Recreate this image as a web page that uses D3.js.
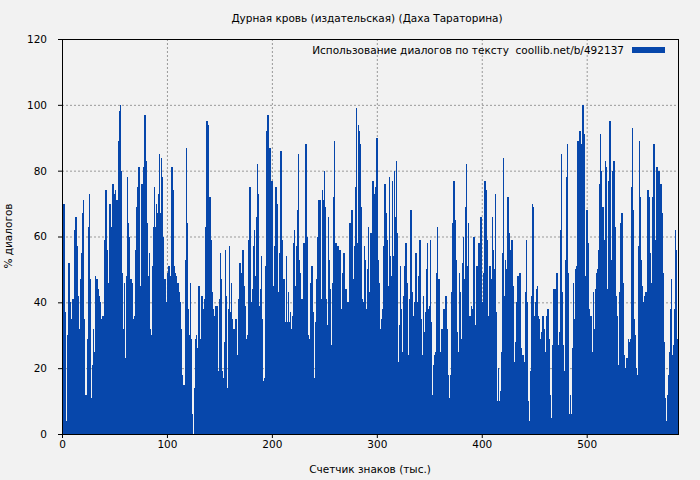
<!DOCTYPE html>
<html><head><meta charset="utf-8">
<script src="https://cdn.jsdelivr.net/npm/d3@7"></script>
<style>body{margin:0;background:#f2f2f2}svg{display:block;font-family:"DejaVu Sans",sans-serif}</style>
</head><body><svg id="c" width="700" height="480"></svg>
<script>
const title = "Дурная кровь (издательская) (Даха Тараторина)";
const legendLabel = "Использование диалогов по тексту\u00a0\u00a0coollib.net/b/492137";
const xLabel = "Счетчик знаков (тыс.)";
const yLabel = "% диалогов";
const xMax = 587;
const xTicks = [0,100,200,300,400,500];
const yTicks = [0,20,40,60,80,100,120];
const seg1 = [49,70,37,2,4,30,52,40,35,30,41,38,62,66,57,42,32,47,55,67,71,35,12,12,29,63,73,47,11,21,32,25,48,47,44,42,40,21,35,36,27,59,74,56,40,46,70,63,58,76,73,74,71,71,89,98,100,80,49,32,46,23,48,78,64,60,47,46,25,35,36,56,69,75,81,45,44,76,76,81,97,83,64,48,55,32,30,51,63,75,63,70,67,73,85,67,84,78,60,47,35,40];
const seg2 = [49,51,40,48,81,74,51,49,48,30,46,43,40,32,18,15,15,53,87,64,38,30,46,29,6,0,14,29,30,26,45,24,29,42,34,38,41,63,95,94,63,72,59,43,38,36,24,39,39,19,41,55,47,19,17,28,56,42,14,38,57,37,46,35,32,30,35,24,22,41,52,43,49,56,45,39,27,29,30,59,75,40,44,57,62,48,66,82,73,39,44,54,35,16,17,51,92,97,70,87,70];
const seg3 = [77,45,23,57,75,70,39,43,55,86,59,40,47,34,54,34,43,34,37,32,36,58,62,45,57,68,85,53,49,41,32,58,57,88,60,30,18,29,46,51,37,17,14,34,47,60,71,71,41,74,71,80,69,41,33,66,53,44,27,46,72,89,58,49,57,28,56,29,38,49,55,37,44,34,40,36,64,45,68,47,57,75,99,58,94,92,88,69,41,40,57,53,38,50,63,43,61,59,77,73,56,75,90,53,46,23];
const seg4 = [32,35,38,57,76,67,59,45,78,54,48,77,54,80,66,83,61,22,33,51,38,25,42,51,58,46,24,22,41,68,43,36,20,40,55,40,39,48,59,35,24,42,31,37,50,58,38,39,59,34,12,21,24,25,49,63,47,22,25,32,18,38,28,42,32,18,11,4,18,43,64,77,65,53,31,25,49,43,29,52,60,47,69,82,51,64,36,36,39,38,60,33,28,51,44,58,48,66,40,29,49,77,74];
const seg5 = [59,35,36,51,47,66,56,50,73,37,10,20,10,13,25,55,84,42,53,50,72,61,47,56,59,45,22,16,28,40,48,35,49,26,20,24,22,43,59,40,10,4,19,42,70,69,36,40,44,45,36,35,29,31,36,32,25,17,36,38,29,12,2,5,27,44,44,31,49,27,31,62,85,43,27,19,53,78,88,49,6,12,6,26,46,35,50,51,89,72,92,72,88,100,91,48,25,68,58,38,34];
const seg6 = [36,25,43,32,44,49,50,56,76,91,80,69,69,59,83,81,44,77,95,53,44,80,83,63,42,36,21,18,43,64,67,46,24,10,20,23,29,28,29,75,93,68,35,30,20,18,57,89,72,53,45,40,42,43,38,74,72,55,25,46,72,88,59,48,81,46,80,71,76,67,49,28,11,4,12,18,25,38,47,24,27,38,62,56,29];
const values = [].concat(seg1,seg2,seg3,seg4,seg5,seg6);

const svg = d3.select("#c");
const m = {l:62, r:678, t:39, b:434};
const x = d3.scaleLinear().domain([0, xMax]).range([m.l, m.r]);
const xb = d3.scaleLinear().domain([0, values.length]).range([m.l, m.r]);
const y = d3.scaleLinear().domain([0,120]).range([m.b, m.t]);

const g = svg.append("g");
g.selectAll(".gy").data(yTicks.filter(d=>d>0)).join("line")
  .attr("x1",m.l).attr("x2",m.r).attr("y1",d=>y(d)+0.5).attr("y2",d=>y(d)+0.5)
  .attr("stroke","#999").attr("stroke-dasharray","2,2");
g.selectAll(".gx").data(xTicks.filter(d=>d>0)).join("line")
  .attr("x1",d=>x(d)+0.5).attr("x2",d=>x(d)+0.5).attr("y1",m.t).attr("y2",m.b)
  .attr("stroke","#999").attr("stroke-dasharray","2,2");

const bw = xb(1)-xb(0);
svg.append("g").attr("shape-rendering","crispEdges").selectAll("rect").data(values).join("rect")
  .attr("x",(d,i)=>xb(i)).attr("width",bw+0.5)
  .attr("y",d=>y(d)).attr("height",d=>y(0)-y(d))
  .attr("fill","#0747ab");

svg.append("rect").attr("x",m.l+0.5).attr("y",m.t+0.5).attr("width",m.r-m.l).attr("height",m.b-m.t)
  .attr("fill","none").attr("stroke","#000");

const fs = 10.5;
const xa = svg.append("g").attr("transform",`translate(0,${m.b})`)
  .call(d3.axisBottom(x).tickValues(xTicks).tickSize(4).tickSizeOuter(0));
const ya = svg.append("g").attr("transform",`translate(${m.l},0)`)
  .call(d3.axisLeft(y).tickValues(yTicks).tickSize(4).tickSizeOuter(0));
[xa,ya].forEach(a=>{a.select(".domain").remove();a.selectAll("text").attr("font-size",fs).attr("font-family","DejaVu Sans").attr("fill","#000");});
ya.selectAll("text").attr("dx",-8);

svg.append("text").attr("x",367).attr("y",22).attr("text-anchor","middle").attr("font-size",fs).text(title);
svg.append("text").attr("x",370).attr("y",473).attr("text-anchor","middle").attr("font-size",fs).text(xLabel);
svg.append("text").attr("transform","translate(12,236) rotate(-90)").attr("text-anchor","middle").attr("font-size",fs).text(yLabel);
svg.append("text").attr("x",624).attr("y",54).attr("text-anchor","end").attr("font-size",fs).text(legendLabel);
svg.append("rect").attr("x",632).attr("y",47).attr("width",33).attr("height",6).attr("fill","#0747ab");
</script></body></html>
